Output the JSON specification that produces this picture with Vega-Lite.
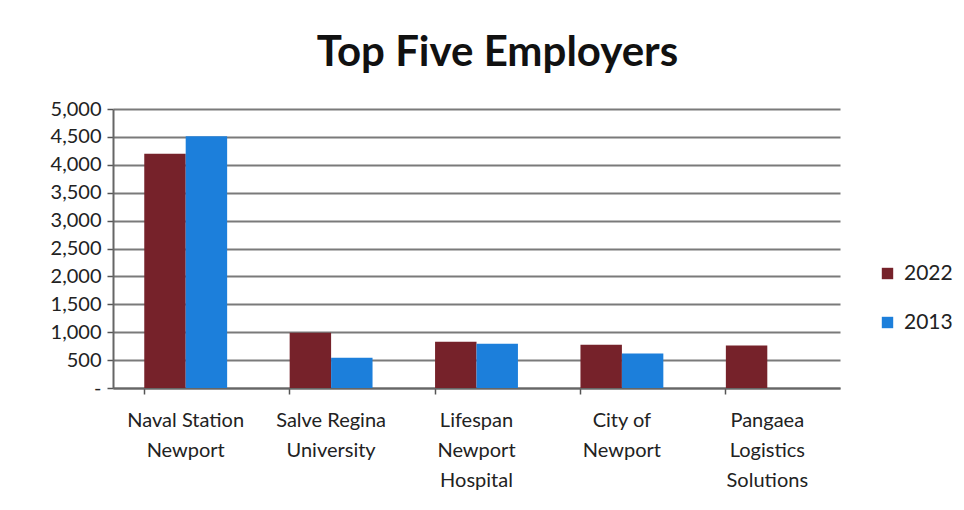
{
  "$schema": "https://vega.github.io/schema/vega-lite/v6.json",
  "autosize": "none",
  "width": 727,
  "height": 279,
  "padding": {"left": 113, "top": 109, "right": 124, "bottom": 122},
  "background": "white",
  "title": {
    "text": "Top Five Employers",
    "font": "Lato",
    "fontSize": 42,
    "fontWeight": "bold",
    "color": "#111111",
    "anchor": "middle",
    "dx": 21,
    "offset": 24
  },
  "data": {
    "values": [
      {"employer": "Naval Station Newport", "year": "2022", "employees": 4200},
      {"employer": "Naval Station Newport", "year": "2013", "employees": 4510},
      {"employer": "Salve Regina University", "year": "2022", "employees": 990},
      {"employer": "Salve Regina University", "year": "2013", "employees": 540},
      {"employer": "Lifespan Newport Hospital", "year": "2022", "employees": 830},
      {"employer": "Lifespan Newport Hospital", "year": "2013", "employees": 795},
      {"employer": "City of Newport", "year": "2022", "employees": 777},
      {"employer": "City of Newport", "year": "2013", "employees": 620},
      {"employer": "Pangaea Logistics Solutions", "year": "2022", "employees": 760}
    ]
  },
  "mark": {"type": "bar"},
  "encoding": {
    "x": {
      "field": "employer",
      "type": "nominal",
      "sort": null,
      "scale": {"paddingInner": 0.43, "paddingOuter": 0.215},
      "axis": {
        "title": null,
        "labelAngle": 0,
        "bandPosition": 0,
        "labelFont": "Lato",
        "labelFontSize": 20,
        "labelColor": "#222222",
        "labelLineHeight": 30,
        "labelPadding": 16,
        "labelBaseline": "top",
        "tickSize": 6,
        "tickColor": "#555555",
        "tickWidth": 1.5,
        "domainColor": "#666666",
        "domainWidth": 2,
        "labelExpr": "datum.value == 'Naval Station Newport' ? ['Naval Station', 'Newport'] : datum.value == 'Salve Regina University' ? ['Salve Regina', 'University'] : datum.value == 'Lifespan Newport Hospital' ? ['Lifespan', 'Newport', 'Hospital'] : datum.value == 'City of Newport' ? ['City of', 'Newport'] : ['Pangaea', 'Logistics', 'Solutions']"
      }
    },
    "xOffset": {"field": "year", "type": "nominal", "sort": ["2022", "2013"]},
    "y": {
      "field": "employees",
      "type": "quantitative",
      "scale": {"domain": [0, 5000], "nice": false},
      "axis": {
        "title": null,
        "values": [0, 500, 1000, 1500, 2000, 2500, 3000, 3500, 4000, 4500, 5000],
        "labelExpr": "datum.value == 0 ? '-' : format(datum.value, ',')",
        "labelFont": "Lato",
        "labelFontSize": 20,
        "labelColor": "#222222",
        "labelPadding": 6,
        "tickSize": 6,
        "tickColor": "#555555",
        "tickWidth": 1.5,
        "domainColor": "#666666",
        "domainWidth": 2,
        "grid": true,
        "gridColor": "#7a7a7a",
        "gridWidth": 2
      }
    },
    "color": {
      "field": "year",
      "type": "nominal",
      "sort": ["2022", "2013"],
      "scale": {"domain": ["2022", "2013"], "range": ["#76222a", "#1c7fdb"]},
      "legend": {
        "title": null,
        "orient": "none",
        "legendX": 764,
        "legendY": 154,
        "symbolType": "square",
        "symbolSize": 130,
        "symbolStrokeWidth": 0,
        "labelFont": "Lato",
        "labelFontSize": 21,
        "labelColor": "#222222",
        "rowPadding": 27,
        "labelOffset": 6
      }
    }
  },
  "config": {
    "view": {"stroke": null}
  }
}
